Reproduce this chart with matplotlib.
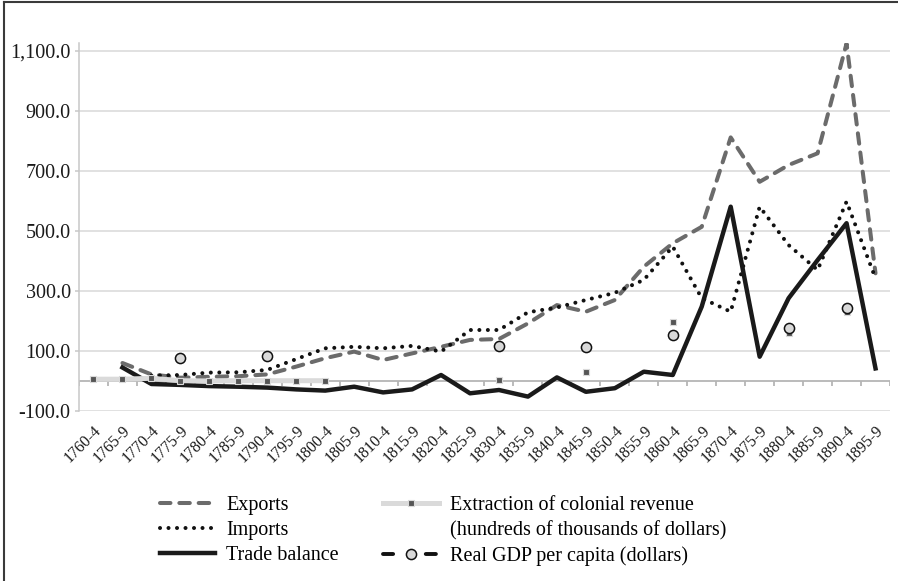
import numpy as np
import matplotlib
matplotlib.use('Agg')
from matplotlib import pyplot as plt
from matplotlib.lines import Line2D
from matplotlib.ticker import FuncFormatter

nan = np.nan

# five-year periods
periods = ['1760-4', '1765-9', '1770-4', '1775-9', '1780-4', '1785-9', '1790-4',
           '1795-9', '1800-4', '1805-9', '1810-4', '1815-9', '1820-4', '1825-9',
           '1830-4', '1835-9', '1840-4', '1845-9', '1850-4', '1855-9', '1860-4',
           '1865-9', '1870-4', '1875-9', '1880-4', '1885-9', '1890-4', '1895-9']

exports = [nan, 60, 22, 11, 14, 16, 22, 48, 76, 98, 70, 92, 114, 137,
           140, 192, 253, 231, 270, 381, 459, 514, 812, 664, 720, 759, 1125, 359]
imports = [nan, nan, 18, 20, 28, 29, 37, 73, 109, 114, 109, 117, 98, 170,
           170, 229, 245, 270, 294, 337, 448, 276, 231, 581, 453, 370, 598, 342]
trade_balance = [nan, 45, -10, -13, -17, -19, -22, -28, -32, -19, -38, -28, 20, -41,
                 -30, -52, 12, -36, -24, 31, 20, 248, 581, 81, 276, 403, 526, 42]
extraction = [6, 6, 9, 1, 0, 1, 1, 1, 1, nan, nan, nan, nan, nan,
              3, nan, nan, 31, nan, nan, 198, nan, nan, nan, 159, nan, 231, nan]
gdp_pc = [nan, nan, nan, 76, nan, nan, 83, nan, nan, nan, nan, nan, nan, nan,
          117, nan, nan, 114, nan, nan, 153, nan, nan, nan, 178, nan, 242, nan]

yticks = [-100, 100, 300, 500, 700, 900, 1100]

serif = 'Liberation Serif'
fig = plt.figure(figsize=(8.98, 5.81), dpi=100)
ax = fig.add_axes([79 / 898, 1 - 411 / 581, (890 - 79) / 898, (411 - 43) / 581])

x = np.arange(len(periods))

l_exp, = ax.plot(x, exports, color='#6b6b6b', lw=2.9, linestyle=(0, (2.6, 2.2)),
                 dash_capstyle='round', zorder=3)
l_imp, = ax.plot(x, imports, color='#111111', lw=2.9, linestyle=(0, (0.01, 2.1)),
                 dash_capstyle='round', zorder=4)
l_tb, = ax.plot(x, trade_balance, color='#1a1a1a', lw=3.2, zorder=5)
l_ext, = ax.plot(x, extraction, color='#dadada', lw=3.6, marker='s', markersize=3.8,
                 markerfacecolor='#555555', markeredgecolor='#dadada', markeredgewidth=0.8,
                 zorder=6)
l_gdp, = ax.plot(x, gdp_pc, color='#111111', lw=2.8, linestyle=(0, (2.6, 8.4)),
                 dash_capstyle='round', marker='o', markersize=7.3,
                 markerfacecolor='#d9d9d9', markeredgecolor='#111111', markeredgewidth=1.1,
                 zorder=7)

ax.set_xlim(-0.5, len(periods) - 0.5)
ax.set_ylim(-100, 1126.7)

# gridlines and axis at zero
for v in yticks:
    ax.axhline(v, color='#d9d9d9', lw=1.1, zorder=0)
ax.axhline(0, color='#b5b5b5', lw=1.3, zorder=1)
ax.vlines(np.arange(len(periods) + 1) - 0.5, -16, 0, color='#b5b5b5', lw=1.3, zorder=1)

for s in ['top', 'right', 'bottom']:
    ax.spines[s].set_visible(False)
ax.spines['left'].set_color('#c8c8c8')
ax.spines['left'].set_linewidth(1.1)

ax.set_yticks(yticks)
ax.yaxis.set_major_formatter(FuncFormatter(lambda v, p: '{:,.1f}'.format(v)))
ax.tick_params(axis='y', length=3, color='#c8c8c8', width=1.1, pad=3,
               labelsize=14.5, labelcolor='#1a1a1a')
ax.set_xticks(x)
ax.set_xticklabels(periods, rotation=45, ha='right', va='top', rotation_mode='anchor')
ax.tick_params(axis='x', length=0, pad=8, labelsize=11.5, labelcolor='#1a1a1a')
for lab in ax.get_xticklabels() + ax.get_yticklabels():
    lab.set_family(serif)

# second line of the extraction label as its own row, no handle
blank = Line2D([], [], linestyle='none')
handles = [l_exp, l_imp, l_tb, l_ext, blank, l_gdp]
labels = ['Exports', 'Imports', 'Trade balance',
          'Extraction of colonial revenue', '(hundreds of thousands of dollars)',
          'Real GDP per capita (dollars)']
ax.legend(handles, labels, ncol=2, loc='upper left',
          bbox_to_anchor=(160 / 898, 1 - 496 / 581), bbox_transform=fig.transFigure,
          frameon=False, borderpad=0, borderaxespad=0, handlelength=2.75,
          handletextpad=0.55, columnspacing=2.2, labelspacing=0.3, numpoints=1,
          prop={'family': serif, 'size': 14.5})

# outer frame (left and top edges)
fig.add_artist(Line2D([4 / 898, 4 / 898], [0, 1 - 2 / 581], transform=fig.transFigure,
                      color='#3a3a3a', lw=1.5))
fig.add_artist(Line2D([4 / 898, 1], [1 - 2 / 581, 1 - 2 / 581], transform=fig.transFigure,
                      color='#3a3a3a', lw=1.5))

fig.savefig('out.png', dpi=100)
